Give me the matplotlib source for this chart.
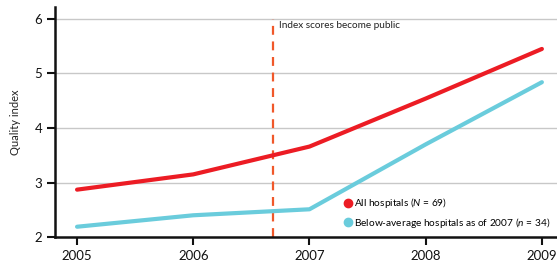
import matplotlib
matplotlib.use("Agg")
import matplotlib.pyplot as plt
from matplotlib.lines import Line2D

years = [2005, 2006, 2007, 2008, 2009]
all_hospitals = [2.87, 3.15, 3.66, 4.54, 5.45]
below_average = [2.19, 2.40, 2.51, 3.70, 4.84]
y_ticks = [2, 3, 4, 5, 6]
public_year = 2006.69
series_labels = ["All hospitals ($N$ = 69)", "Below-average hospitals as of 2007 ($n$ = 34)"]
annotation = "Index scores become public"

RED = "#ec1c24"
CYAN = "#6accdc"
ORANGE = "#f0582a"

plt.rcParams['font.family'] = ['Lato', 'DejaVu Sans']
plt.rcParams['mathtext.fontset'] = 'custom'
plt.rcParams['mathtext.it'] = 'Lato:italic'
plt.rcParams['mathtext.rm'] = 'Lato'

fig = plt.figure(figsize=(5.57, 2.67), dpi=100)
ax = fig.add_axes([0.0987, 0.112, 0.9013, 0.862])

ax.set_xlim(2004.81, 2009.13)
ax.set_ylim(2, 6.22)

for yv in y_ticks[1:]:
    ax.axhline(yv, color="#c8c8c8", lw=1.0, zorder=0)

ax.plot([public_year, public_year], [y_ticks[0], y_ticks[-1]], color=ORANGE, lw=1.6,
        dashes=(4, 3), zorder=1)
ax.text(public_year + 0.05, 6.0 - 0.04, annotation, fontsize=7.2, va="top", ha="left",
        color="#222222")

ax.plot(years, all_hospitals, color=RED, lw=3.0, solid_capstyle="round", zorder=3)
ax.plot(years, below_average, color=CYAN, lw=3.0, solid_capstyle="round", zorder=3)

ax.set_xticks(years)
ax.set_xticklabels([str(y) for y in years])
ax.set_yticks(y_ticks)
ax.set_yticklabels([str(y) for y in y_ticks])

for s in ["top", "right"]:
    ax.spines[s].set_visible(False)
for s in ["left", "bottom"]:
    ax.spines[s].set_linewidth(1.8)
    ax.spines[s].set_color("#111111")

ax.tick_params(axis="both", direction="out", length=6, width=1.5, colors="#111111",
               labelsize=9.5, pad=3)
ax.set_ylabel("Quality index", fontsize=8, color="#222222", labelpad=10)

handles = [Line2D([], [], marker="o", ls="", color=RED, markersize=6),
           Line2D([], [], marker="o", ls="", color=CYAN, markersize=6)]
ax.legend(handles, series_labels, loc="lower right", bbox_to_anchor=(1.0, 0.0),
          frameon=False, fontsize=7.3, handletextpad=0.05, handlelength=1.0,
          labelspacing=0.55, borderaxespad=0.3)

fig.savefig("out.png", dpi=100)
